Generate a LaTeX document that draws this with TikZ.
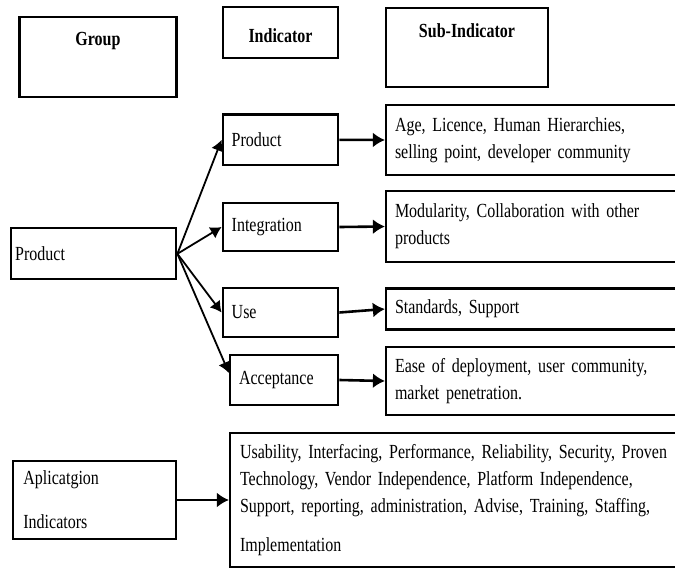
\documentclass[tikz,border=0pt]{standalone}
\usepackage{fontspec}
\setmainfont{Liberation Serif}[FakeStretch=0.8]
\usetikzlibrary{arrows.meta,positioning}
\tikzset{>={Latex[length=11pt,width=13pt]}}

\begin{document}
\begin{tikzpicture}[x=1pt,y=1pt,
        every node/.style={font=\fontsize{20}{27}\selectfont,inner sep=0pt},
        box/.style={draw,line width=2.2pt,rectangle,align=left,inner xsep=9pt},
        head/.style={font=\fontsize{20}{27}\selectfont\bfseries},
        link/.style={draw,line width=1.8pt,->},
        hlink/.style={draw,line width=2.6pt,-{Latex[length=12pt,width=15pt]}}]
        \useasboundingbox (0,0) rectangle (675,-568);
        \clip (0,0) rectangle (675,-568);
        \node[box,minimum width=157pt,minimum height=80pt] (grp) at (98,-57.3) {};
        \node[head] (grplab) at ([yshift=-25pt]grp.north) {Group};
        \node[box,minimum width=115.6pt,minimum height=51pt] (indh) at (280.5,-32.8) {};
        \node[head] (indlab) at ([yshift=-29pt]indh.north) {Indicator};
        \node[box,minimum width=162pt,minimum height=79pt] (subh) at (467,-47.8) {};
        \node[head] (sublab) at ([yshift=-23.4pt]subh.north) {Sub-Indicator};
        \node[box,inner xsep=4.5pt,text width=156.6pt,minimum height=51pt] (grpprod) at (93.5,-253.8) {Product};
        \node[box,text width=97.6pt,minimum height=50.5pt] (prod) at (280.5,-139.8) {Product};
        \node[box,text width=97.6pt,minimum height=48pt] (integ) at (280.5,-227) {Integration};
        \node[box,text width=97.6pt,minimum height=49pt] (use) at (280.5,-312.5) {Use};
        \node[box,text width=90.3pt,minimum height=50pt] (accept) at (284.2,-380) {Acceptance};
        \node[box,text width=322pt,minimum height=70pt] (age) at (556,-140) {Age, Licence, Human Hierarchies,\\selling point, developer community};
        \node[box,text width=322pt,minimum height=71pt] (modul) at (556,-226.5) {Modularity, Collaboration with other\\products};
        \node[box,text width=322pt,minimum height=41pt] (stand) at (556,-309) {Standards, Support};
        \node[box,text width=322pt,minimum height=68pt] (ease) at (556,-381) {Ease of deployment, user community,\\market penetration.};
        \node[box,inner xsep=10.5pt,text width=142.4pt,minimum height=78.6pt] (app) at (94.6,-500) {Aplicatgion\\[17pt]Indicators};
        \node[box,inner xsep=10pt,text width=476pt,minimum height=134pt] (usab) at (478,-500) {Usability, Interfacing, Performance, Reliability, Security, Proven\\Technology, Vendor Independence, Platform Independence,\\Support, reporting, administration, Advise, Training, Staffing,\\[12pt]Implementation};
        \draw[link] (grpprod.east) -- (prod.west);
        \draw[link] (grpprod.east) -- (integ.west);
        \draw[link] (grpprod.east) -- (use.west);
        \draw[link] (grpprod.east) -- ([yshift=7pt]accept.west);
        \foreach \a/\b in {prod/age,integ/modul,use/stand,accept/ease,app/usab}
          \draw[hlink] (\a.east) -- (\b.west);
\end{tikzpicture}
\end{document}
